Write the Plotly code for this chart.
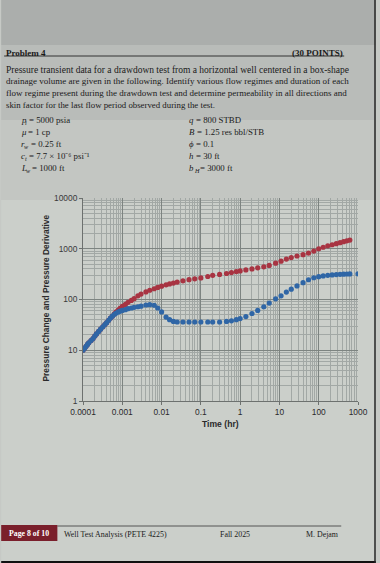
import plotly.graph_objects as go

# ---------------- data ----------------
time_hr = [0.0001, 0.00011, 0.00012, 0.00013, 0.00014, 0.00016, 0.00018, 0.0002, 0.00022, 0.00025,
           0.00028, 0.00032, 0.00036, 0.0004, 0.00045, 0.0005, 0.00056, 0.00063, 0.0007, 0.00079,
           0.00088, 0.001, 0.0012, 0.0014, 0.0017, 0.002, 0.0025, 0.003, 0.004, 0.005,
           0.0065, 0.008, 0.01, 0.013, 0.016, 0.02, 0.025, 0.035, 0.05, 0.07,
           0.1, 0.15, 0.2, 0.3, 0.45, 0.6, 0.8, 1.0, 1.4, 2.0,
           2.8, 4.0, 5.5, 8.0, 11, 15, 20, 28, 40, 55,
           75, 100, 130, 170, 220, 280, 350, 430, 520, 620, 1000]

pressure_change = [10, 11, 12, 13, 14, 15.5, 17, 19, 21, 23.5,
                   26, 29, 32, 35, 39, 43, 47, 52, 57, 62,
                   67, 73, 80, 88, 96, 104, 118, 128, 141, 152,
                   163, 173, 183, 195, 203, 211, 220, 233, 246, 256,
                   266, 284, 300, 312, 325, 340, 355, 365, 382, 400,
                   420, 440, 470, 520, 570, 625, 670, 720, 765, 820,
                   900, 1000, 1070, 1140, 1200, 1260, 1320, 1380, 1430, 1480, None]

pressure_derivative = [10, 11, 12, 13, 14, 15.5, 17, 19, 21, 23.5,
                       26, 29, 32, 35, 39, 43, 47, 51, 54, 57,
                       59, 61, 63, 66, 68, 70, 72, 74, 78, 79,
                       77, 68, 57, 45, 40, 37, 36, 36, 36, 36,
                       36, 36, 36, 36, 37, 38, 40, 42, 46, 53,
                       61, 72, 85, 103, 118, 140, 160, 185, 215, 245,
                       268, 282, 292, 300, 305, 310, 313, 316, 318, 319, 320]

x_ticks = [0.0001, 0.001, 0.01, 0.1, 1, 10, 100, 1000]
x_tick_text = ["0.0001", "0.001", "0.01", "0.1", "1", "10", "100", "1000"]
y_ticks = [1, 10, 100, 1000, 10000]
y_tick_text = ["1", "10", "100", "1000", "10000"]

# given parameters: (symbol, subscript, value text)
left_params = [("p", "i", "= 5000 psia"), ("μ", "", "= 1 cp"), ("r", "w", "= 0.25 ft"),
               ("c", "t", "= 7.7 × 10⁻⁶ psi⁻¹"), ("L", "w", "= 1000 ft")]
right_params = [("q", "", "= 800 STBD"), ("B", "", "= 1.25 res bbl/STB"), ("ϕ", "", "= 0.1"),
                ("h", "", "= 30 ft"), ("b", "H", "= 3000 ft")]

# ---------------- layout helpers ----------------
W, H = 380, 563
L, R, T, B = 83, 18, 198, 162
PW, PH = W - L - R, H - T - B


def fx(x):
    return (x - L) / PW


def fy(y):
    return (H - B - y) / PH


RED = "#a83442"
BLUE = "#2f66a6"
SERIF = "Liberation Serif, Times New Roman, serif"
SANS = "Liberation Sans, Arial, sans-serif"

fig = go.Figure()
fig.add_trace(go.Scatter(x=time_hr, y=pressure_change, mode="markers",
                         marker=dict(color=RED, size=5.2), name="Pressure change",
                         showlegend=False))
fig.add_trace(go.Scatter(x=time_hr, y=pressure_derivative, mode="markers",
                         marker=dict(color=BLUE, size=5.2), name="Pressure derivative",
                         showlegend=False))

shapes = []
# page shading bands
bands = [(0, 45, "#abaeac"), (45, 120, "#b9bcb9"), (120, 200, "#c3c6c2"), (200, 563, "#cbcfca")]
for y0, y1, c in bands:
    shapes.append(dict(type="rect", xref="paper", yref="paper", x0=fx(0), x1=fx(W),
                       y0=fy(y1), y1=fy(y0), fillcolor=c, line=dict(width=0), layer="below"))
# black edges of the photo
shapes.append(dict(type="rect", xref="paper", yref="paper", x0=fx(0), x1=fx(W),
                   y0=fy(H), y1=fy(561), fillcolor="#111111", line=dict(width=0)))
shapes.append(dict(type="rect", xref="paper", yref="paper", x0=fx(378.5), x1=fx(W),
                   y0=fy(H), y1=fy(0), fillcolor="#222222", line=dict(width=0)))
# header rule
shapes.append(dict(type="line", xref="paper", yref="paper", x0=fx(3), x1=fx(348),
                   y0=fy(56), y1=fy(56), line=dict(color="#333333", width=1)))
# footer rule and red box
shapes.append(dict(type="line", xref="paper", yref="paper", x0=fx(57), x1=fx(345),
                   y0=fy(526), y1=fy(526), line=dict(color="#555555", width=1)))
shapes.append(dict(type="rect", xref="paper", yref="paper", x0=fx(0), x1=fx(57),
                   y0=fy(541), y1=fy(525), fillcolor="#7a1f2b", line=dict(width=0)))

ann = []


def text(x, y, s, size=9, font=SERIF, color="#1a1a1a", anchor="left", angle=0,
         weight="normal", style="normal"):
    ann.append(dict(x=fx(x), y=fy(y), xref="paper", yref="paper", text=s, showarrow=False,
                    xanchor=anchor, yanchor="middle", textangle=angle,
                    font=dict(family=font, size=size, color=color, weight=weight, style=style)))


text(3, 52.5, "Problem 4", 9, weight="bold")
text(349, 52.5, "(30 POINTS)", 9, anchor="right", weight="bold")
para = [("Pressure transient data for a drawdown test from a horizontal well centered in a box-shape", 9.5),
        ("drainage volume are given in the following. Identify various flow regimes and duration of each", 9.0),
        ("flow regime present during the drawdown test and determine permeability in all directions and", 9.0),
        ("skin factor for the last flow period observed during the test.", 8.8)]
for i, (s, sz) in enumerate(para):
    text(3, 69.5 + i * 11.7, s, sz)

# approximate glyph widths (px) of the italic symbols and their subscripts
sym_w = {"p": 4.4, "μ": 4.8, "r": 3.6, "c": 3.9, "L": 5.0, "q": 4.4, "B": 5.4, "ϕ": 4.8, "h": 4.4, "b": 4.4}
sub_w = {"": 0.0, "i": 1.8, "w": 4.1, "t": 1.8, "H": 4.5}


def param(x, y, sym, sub, val):
    text(x, y, sym, 8.8, style="italic")
    xs = x + sym_w[sym]
    if sub:
        text(xs, y + 2.2, sub, 6.2, style="italic")
    text(xs + sub_w[sub] + 2.2, y, val, 8.8)


for i in range(5):
    y = 120 + i * 12
    param(18, y, *left_params[i])
    param(189, y, *right_params[i])

# axis titles
text(45, 298, "Pressure Change and Pressure Derivative", 8.4, SANS, "#2a2a2a",
     anchor="center", angle=-90, weight="bold")
text(222, 424, "Time (hr)", 8.6, SANS, "#2a2a2a", anchor="center", weight="bold")

# footer
text(28.5, 533, "Page 8 of 10", 7.8, SERIF, "#ffffff", anchor="center", weight="bold")
text(62, 534, "Well Test Analysis (PETE 4225)", 7.9)
text(220, 534, "Fall 2025", 7.9)
text(307, 534, "M. Dejam", 7.9)

fig.update_layout(
    width=W, height=H, margin=dict(l=L, r=R, t=T, b=B, pad=0),
    paper_bgcolor="#c6c9c5", plot_bgcolor="#d4d7d3",
    shapes=shapes, annotations=ann, showlegend=False,
)
fig.update_xaxes(type="log", range=[-4, 3], tickvals=x_ticks, ticktext=x_tick_text,
                 tickfont=dict(family=SANS, size=8.4, color="#2a2a2a"),
                 showgrid=True, gridcolor="#7d8481", gridwidth=1,
                 minor=dict(dtick="D1", showgrid=True, gridcolor="#a2a8a5", gridwidth=1),
                 showline=True, linecolor="#6d716f", linewidth=1, zeroline=False,
                 ticks="outside", ticklen=3, tickcolor="#6d716f")
fig.update_yaxes(type="log", range=[0, 4], tickvals=y_ticks, ticktext=y_tick_text,
                 tickfont=dict(family=SANS, size=8.4, color="#3a3a3a"),
                 showgrid=True, gridcolor="#7d8481", gridwidth=1,
                 minor=dict(dtick="D1", showgrid=True, gridcolor="#a2a8a5", gridwidth=1),
                 showline=True, linecolor="#6d716f", linewidth=1, zeroline=False,
                 ticks="outside", ticklen=3, tickcolor="#6d716f")

fig.write_html("out.html", config={"displayModeBar": False},
               post_script="document.body.style.margin='0';document.body.style.overflow='hidden';")
